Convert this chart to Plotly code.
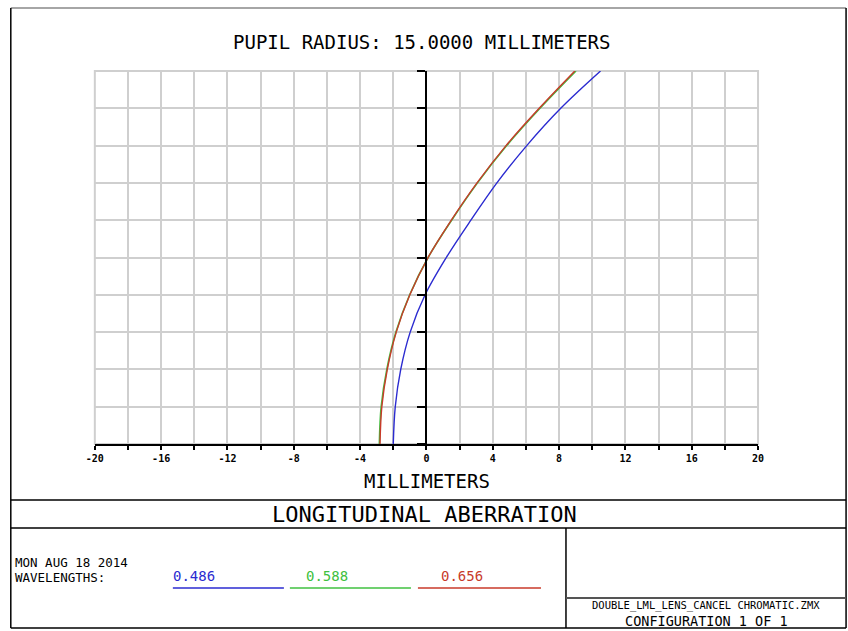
import plotly.graph_objects as go

W, H = 848, 631

# ---- data ----
pupil = [0.0, 0.1, 0.2, 0.3, 0.4, 0.5, 0.6, 0.7, 0.8, 0.9, 1.0]
focus_486 = [-2.0, -1.88, -1.55, -0.98, -0.08, 1.2, 2.68, 4.25, 6.05, 8.1, 10.5]
focus_588 = [-2.84, -2.73, -2.39, -1.84, -1.01, 0.1, 1.52, 3.08, 4.84, 6.85, 9.02]
focus_656 = [-2.8, -2.69, -2.36, -1.82, -1.0, 0.1, 1.5, 3.05, 4.8, 6.8, 8.95]
wavelengths = ["0.486", "0.588", "0.656"]
colors = ["#2b2bd0", "#40c040", "#c83a2a"]

x_ticks = [-20, -16, -12, -8, -4, 0, 4, 8, 12, 16, 20]

title = "PUPIL RADIUS: 15.0000 MILLIMETERS"
x_title = "MILLIMETERS"
plot_name = "LONGITUDINAL ABERRATION"
date_text = "MON AUG 18 2014"
wl_label = "WAVELENGTHS:"
file_name = "DOUBLE_LML_LENS_CANCEL CHROMATIC.ZMX"
config_text = "CONFIGURATION 1 OF 1"

# ---- layout geometry (pixels of the target picture) ----
PL, PR, PT, PB = 94, 757, 71, 444
# horizontal correction for how the page is photographed
OX, KX = 8.2, 0.982
def px(x):
    return ((x - OX) / KX) / W
def py(y):
    return 1 - y / H

FONT = "DejaVu Sans Mono"

fig = go.Figure()
for vals, c, w in [(focus_486, colors[0], 1.4), (focus_588, colors[1], 1.6), (focus_656, colors[2], 1.4)]:
    fig.add_trace(go.Scatter(x=vals, y=pupil, mode="lines", line=dict(color=c, width=w, shape="spline"),
                             showlegend=False, hoverinfo="skip", xaxis="x", yaxis="y"))

xdom = [px(PL), px(PR)]
ydom = [py(PB), py(PT)]
yaxis_pos = (xdom[0] + xdom[1]) / 2

grid_col = "#cfcfcf"
fig.update_layout(
    width=W, height=H, autosize=False,
    margin=dict(l=0, r=0, t=0, b=0),
    paper_bgcolor="white", plot_bgcolor="white",
    xaxis=dict(domain=xdom, range=[-20, 20], showgrid=True,
               gridcolor=grid_col, gridwidth=2, zeroline=False,
               showline=True, linecolor="black", linewidth=2,
               ticks="outside", ticklen=4, tickwidth=1.5, tickcolor="black",
               tickmode="array", tickvals=list(range(-20, 21, 2)),
               ticktext=[str(v) if v in x_ticks else "" for v in range(-20, 21, 2)],
               tickfont=dict(family=FONT, size=10, color="black", weight="bold"),
               anchor="y", fixedrange=True),
    xaxis2=dict(domain=xdom, range=[-20, 20], overlaying="x", anchor="y", side="bottom",
                showgrid=False, zeroline=False, showline=False, tickmode="array",
                tickvals=list(range(-20, 21, 2)), ticks="inside", ticklen=4, tickwidth=1.5,
                tickcolor="black", showticklabels=False),
    yaxis=dict(domain=ydom, range=[0, 1], dtick=0.1, tick0=0, showgrid=True,
               gridcolor=grid_col, gridwidth=2, zeroline=False,
               showline=True, linecolor="black", linewidth=2,
               anchor="free", position=yaxis_pos,
               ticks="outside", ticklen=8, tickwidth=2, tickcolor="black",
               showticklabels=False, fixedrange=True),
    yaxis2=dict(domain=ydom, range=[0, 1], overlaying="y", anchor="free", position=yaxis_pos,
                dtick=0.1, tick0=0, showgrid=False, zeroline=False, showline=False,
                ticks="inside", ticklen=8, tickwidth=2, tickcolor="black", showticklabels=False),
)

shapes = []
# grey border round the grid
shapes.append(dict(type="rect", xref="x domain", yref="y domain", x0=0, x1=1, y0=0, y1=1,
                   line=dict(color=grid_col, width=2), layer="below"))
def line(x0, y0, x1, y1, color="black", width=1.5):
    shapes.append(dict(type="line", xref="paper", yref="paper", x0=px(x0), y0=py(y0),
                       x1=px(x1), y1=py(y1), line=dict(color=color, width=width)))

# outer frame and dividers
line(10, 8, 845, 8, "#888888", 1.5)
line(10, 8, 10, 628)
line(845, 8, 845, 628)
line(10, 628, 845, 628)
line(10, 500, 845, 500)
line(10, 528, 845, 528)
line(565, 528, 565, 628)
line(565, 598, 845, 598, "#555555", 2)
# wavelength key lines
for (x0, x1), c in zip([(172, 283), (289, 410), (417, 540)], colors):
    line(x0, 588, x1, 588, c, 1.5)
fig.update_layout(shapes=shapes)

ann = []
def text(x, y, s, size, color="black", xanchor="center"):
    ann.append(dict(x=px(x), y=py(y), xref="paper", yref="paper", text=s, showarrow=False,
                    xanchor=xanchor, yanchor="middle",
                    font=dict(family=FONT, size=size, color=color)))

text(421, 42, title, 19)
text(426, 481, x_title, 19)
text(424, 514, plot_name, 22)
text(12, 562, date_text, 12.5, xanchor="left")
text(12, 577, wl_label, 12.5, xanchor="left")
for x, s, c in zip([193, 326, 461], wavelengths, colors):
    text(x, 576, s, 14, c)
text(705, 605, file_name, 10.5)
text(705, 621, config_text, 13.5)
fig.update_layout(annotations=ann)

fig.write_html(
    "out.html",
    config={"displayModeBar": False},
    post_script="document.body.style.margin='0';document.body.style.padding='0';"
                "document.documentElement.style.overflow='hidden';document.body.style.overflow='hidden';",
)
